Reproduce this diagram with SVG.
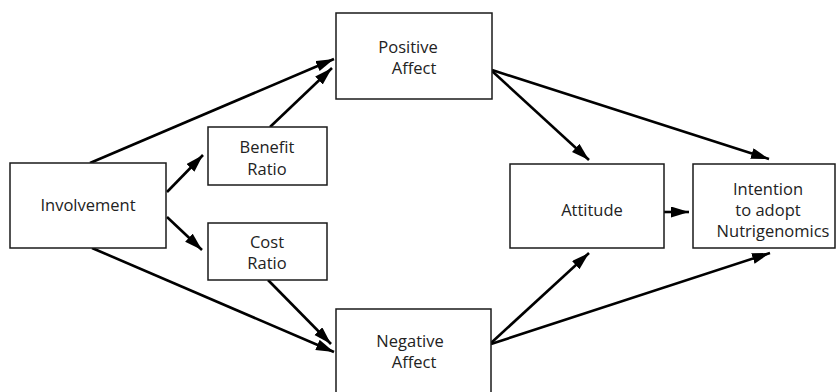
<svg xmlns="http://www.w3.org/2000/svg" width="837" height="392" viewBox="0 0 837 392">
  <style>
    .box { fill: #ffffff; stroke: #1a1a1a; stroke-width: 1.5; }
    .lbl { font-family: "Open Sans", "Noto Sans", sans-serif; font-size: 16.5px; fill: #222222; text-anchor: middle; }
    .edge { stroke: #000000; stroke-width: 2.6; fill: none; marker-end: url(#arrow); }
  </style>
  <defs>
    <marker id="arrow" markerUnits="userSpaceOnUse" markerWidth="20" markerHeight="12" refX="18" refY="5.5" orient="auto">
      <path d="M0,0 L18,5.5 L0,11 z" fill="#000000"/>
    </marker>
  </defs>
  <rect width="837" height="392" fill="#ffffff"/>

  <g id="connectors">
    <line class="edge" x1="90" y1="163" x2="334" y2="59"/>
    <line class="edge" x1="270" y1="127" x2="332" y2="68"/>
    <line class="edge" x1="167" y1="192" x2="203" y2="155"/>
    <line class="edge" x1="167" y1="217" x2="202" y2="250"/>
    <line class="edge" x1="268" y1="280" x2="331" y2="344"/>
    <line class="edge" x1="92" y1="248" x2="334" y2="352"/>
    <line class="edge" x1="492" y1="71" x2="589" y2="160"/>
    <line class="edge" x1="492" y1="70" x2="769" y2="159"/>
    <line class="edge" x1="491" y1="343" x2="589" y2="253"/>
    <line class="edge" x1="491" y1="344" x2="770" y2="253"/>
    <line class="edge" x1="664" y1="212" x2="689" y2="212"/>
  </g>

  <g id="involvement">
    <rect class="box" x="10" y="163" width="156" height="85"/>
    <text class="lbl" x="88" y="211">Involvement</text>
  </g>
  <g id="benefit-ratio">
    <rect class="box" x="208" y="127" width="119" height="58"/>
    <text class="lbl" x="267" y="153">Benefit</text>
    <text class="lbl" x="267" y="175">Ratio</text>
  </g>
  <g id="cost-ratio">
    <rect class="box" x="208" y="223" width="119" height="57"/>
    <text class="lbl" x="267" y="248">Cost</text>
    <text class="lbl" x="267" y="269">Ratio</text>
  </g>
  <g id="positive-affect">
    <rect class="box" x="336" y="13" width="156" height="86"/>
    <text class="lbl" x="408" y="53">Positive</text>
    <text class="lbl" x="414" y="74">Affect</text>
  </g>
  <g id="negative-affect">
    <rect class="box" x="336" y="309" width="155" height="90"/>
    <text class="lbl" x="410" y="347">Negative</text>
    <text class="lbl" x="414" y="368">Affect</text>
  </g>
  <g id="attitude">
    <rect class="box" x="510" y="164" width="154" height="84"/>
    <text class="lbl" x="592" y="216">Attitude</text>
  </g>
  <g id="intention">
    <rect class="box" x="693" y="164" width="142" height="84"/>
    <text class="lbl" x="768" y="195">Intention</text>
    <text class="lbl" x="768" y="216">to adopt</text>
    <text class="lbl" x="773" y="237">Nutrigenomics</text>
  </g>
</svg>
